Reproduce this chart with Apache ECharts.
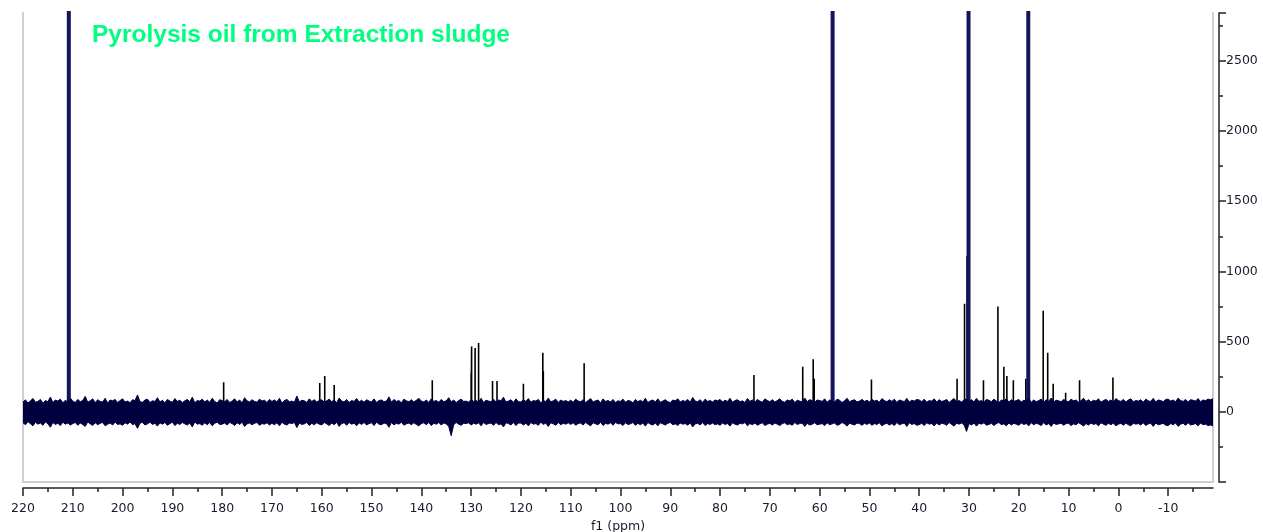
<!DOCTYPE html>
<html>
<head>
<meta charset="utf-8">
<script src="https://cdn.jsdelivr.net/npm/echarts@6/dist/echarts.min.js"></script>
<style>
html,body{margin:0;padding:0;background:#fff;}
#chart{width:1263px;height:532px;}
</style>
</head>
<body>
<div id="chart"></div>
<script>
// ---- data ----
const titleText = 'Pyrolysis oil from Extraction sludge';
const xAxisName = 'f1 (ppm)';
const xMajorTicks = [220,210,200,190,180,170,160,150,140,130,120,110,100,90,80,70,60,50,40,30,20,10,0,-10];
const xMinorTicks = [215,205,195,185,175,165,155,145,135,125,115,105,95,85,75,65,55,45,35,25,15,5,-5,-15];
const xMin = -19, xMax = 220;
const yMin = -500, yMax = 2840, yInterval = 500;

// baseline noise envelope, sampled from 220 ppm downwards every 0.5 ppm
const noiseStartPpm = 220;
const noiseStepPpm = 0.5;
const noiseUpper = [
70,85,62,78,95,68,74,88,60,80,72,105,66,84,76,90,64,82,70,98,
75,66,88,72,80,110,68,78,92,64,86,74,70,96,62,84,78,88,66,80,
92,70,76,64,86,80,120,72,68,84,90,66,78,74,100,70,82,64,88,76,
68,94,74,82,66,78,88,72,104,64,80,76,90,70,84,68,96,74,62,86,
80,72,88,66,76,92,70,84,64,100,78,70,86,74,68,90,76,82,66,88,
74,84,70,96,62,80,88,72,76,68,112,70,82,78,66,92,74,86,70,80,
86,68,78,90,72,84,64,98,76,70,88,66,80,74,94,70,82,68,86,76,
70,92,66,80,84,72,76,106,68,88,74,80,64,90,78,72,86,70,82,96,
76,70,84,66,92,74,80,68,88,72,78,100,70,84,66,80,90,74,76,68,
88,74,80,70,96,66,82,76,72,90,68,84,78,104,70,76,86,66,92,72,
70,86,74,94,68,80,76,88,64,82,72,98,70,78,90,66,84,74,80,70,
82,68,90,76,72,86,66,80,94,70,78,84,64,92,74,80,70,88,66,78,
74,90,68,80,76,64,88,72,82,70,96,66,78,84,70,92,68,76,86,72,
66,84,78,92,70,80,74,88,68,102,76,72,86,66,90,74,80,70,84,78,
88,70,82,74,96,68,80,86,72,78,66,94,74,84,70,88,76,68,92,80,
72,86,70,80,92,74,68,84,78,90,66,82,76,70,98,72,86,80,68,84,
80,74,92,68,84,76,70,90,82,66,78,96,72,80,86,70,76,88,74,82,
70,88,76,82,68,94,80,72,86,74,90,66,84,78,72,96,70,82,76,88,
84,72,90,68,80,76,92,70,86,74,78,88,66,82,94,72,80,70,84,90,
76,86,70,96,74,80,68,88,82,72,90,76,66,84,78,92,70,86,74,80,
88,70,82,76,94,68,84,72,80,90,66,86,74,98,70,82,78,72,88,76,
72,90,78,84,68,80,96,74,86,70,82,76,92,68,80,88,74,84,70,94,
80,74,88,70,84,92,72,80,76,86,68,90,78,74,96,70,84,80,72,88,
90,76,84,72,98,80,74,88,70,86,82,76,94,72,84,80,90,86,92
];
const noiseLower = [
-78,-92,-70,-85,-100,-74,-88,-80,-96,-72,-86,-110,-76,-90,-82,-98,-74,-88,-80,-94,
-84,-76,-96,-80,-90,-104,-72,-86,-98,-78,-92,-82,-76,-100,-88,-80,-94,-74,-90,-86,
-96,-78,-88,-72,-92,-84,-118,-80,-76,-94,-86,-74,-90,-82,-102,-78,-88,-76,-96,-84,
-74,-98,-82,-90,-76,-86,-94,-80,-108,-72,-88,-84,-96,-78,-92,-76,-100,-82,-74,-90,
-88,-80,-94,-76,-84,-98,-78,-90,-74,-104,-86,-80,-92,-82,-76,-96,-84,-88,-78,-94,
-82,-92,-78,-100,-74,-88,-94,-80,-84,-76,-112,-80,-90,-86,-76,-98,-82,-92,-78,-88,
-94,-76,-86,-98,-80,-92,-74,-104,-84,-78,-96,-76,-88,-82,-100,-78,-90,-76,-94,-84,
-78,-98,-74,-88,-92,-80,-84,-110,-76,-94,-82,-88,-74,-96,-86,-80,-92,-78,-90,-100,
-84,-78,-92,-76,-98,-82,-88,-76,-94,-80,-86,-104,-170,-92,-76,-88,-96,-82,-84,-78,
-94,-82,-88,-78,-100,-76,-90,-84,-80,-96,-76,-92,-86,-108,-78,-84,-94,-76,-98,-80,
-80,-94,-82,-100,-76,-88,-84,-96,-74,-90,-80,-104,-78,-86,-96,-76,-92,-82,-88,-78,
-90,-78,-96,-84,-80,-94,-76,-88,-100,-78,-86,-92,-74,-98,-82,-88,-78,-96,-76,-86,
-84,-98,-78,-90,-86,-76,-96,-82,-92,-80,-102,-76,-88,-94,-80,-100,-78,-86,-94,-82,
-76,-92,-86,-98,-80,-88,-84,-96,-78,-108,-86,-82,-94,-76,-98,-84,-90,-80,-92,-86,
-96,-80,-90,-84,-102,-78,-88,-94,-82,-86,-76,-100,-84,-92,-80,-96,-86,-78,-98,-88,
-82,-94,-80,-88,-98,-84,-78,-92,-86,-96,-76,-90,-84,-80,-104,-82,-94,-88,-78,-92,
-88,-84,-98,-78,-92,-86,-80,-96,-90,-76,-86,-102,-82,-88,-94,-80,-84,-96,-82,-90,
-80,-96,-84,-90,-78,-100,-88,-82,-94,-84,-98,-76,-92,-86,-80,-104,-78,-90,-84,-96,
-92,-82,-98,-78,-88,-84,-100,-80,-94,-82,-86,-96,-76,-90,-102,-82,-88,-80,-92,-140,
-84,-94,-80,-102,-82,-88,-78,-96,-90,-82,-98,-84,-76,-92,-86,-100,-80,-94,-82,-88,
-96,-80,-90,-84,-100,-78,-92,-82,-88,-98,-76,-94,-84,-104,-80,-90,-86,-82,-96,-84,
-82,-98,-86,-92,-78,-88,-102,-84,-94,-80,-90,-84,-100,-78,-88,-96,-82,-92,-80,-100,
-88,-82,-96,-80,-92,-100,-82,-88,-84,-94,-78,-98,-86,-82,-104,-80,-92,-88,-82,-96,
-98,-84,-92,-80,-104,-88,-82,-96,-78,-94,-90,-84,-100,-80,-92,-88,-98,-94,-100
];

// resolved small peaks: [ppm, intensity]
const smallPeaks = [
[179.7,210],[160.4,205],[159.4,255],[157.5,190],[137.8,225],
[130.0,275],[129.9,465],[129.2,455],[128.5,490],[125.7,220],[124.8,220],
[119.5,200],[115.6,420],[115.5,290],[107.3,345],
[73.2,262],[63.4,320],[61.3,375],[61.1,235],[49.6,230],
[32.4,235],[30.9,770],[30.4,1110],[27.1,225],[24.2,750],[23.0,320],[22.4,255],
[21.1,225],[18.6,235],[15.1,720],[14.2,420],[13.1,200],[10.6,135],[7.8,225],[1.1,245]
];
// off-scale major peaks: [ppm, intensity]
const bigPeaks = [[210.8,30000],[57.4,30000],[30.1,30000],[18.1,30000]];

// ---- build series data ----
const upperData = noiseUpper.map((v, i) => [noiseStartPpm - i * noiseStepPpm, v]);
const lowerData = noiseLower.map((v, i) => [noiseStartPpm - i * noiseStepPpm, v]);
function spikes(list) {
  const out = [];
  list.forEach(p => { out.push([p[0], 0]); out.push([p[0], p[1]]); out.push([p[0], 0]); });
  return out;
}

const labelFont = 'DejaVu Sans';
const labelColor = '#1a1a2e';
const navy = '#00003f';
const chart = echarts.init(document.getElementById('chart'), null, {renderer: 'canvas'});
const baseX = {
  type: 'value', min: xMin, max: xMax, inverse: true, position: 'bottom',
  splitLine: {show: false}
};
chart.setOption({
  animation: false,
  backgroundColor: '#ffffff',
  title: {
    text: titleText, left: 92, top: 23, padding: 0,
    textStyle: {color: '#00ff80', fontFamily: 'Liberation Sans', fontWeight: 'bold', fontSize: 24.5}
  },
  grid: {left: 23, right: 50, top: 13, bottom: 50, show: false, containLabel: false, outerBoundsMode: 'none'},
  xAxis: [
    Object.assign({}, baseX, {
      offset: 6,
      name: xAxisName, nameLocation: 'middle', nameGap: 31,
      nameTextStyle: {fontFamily: labelFont, fontSize: 12.5, color: labelColor},
      axisLine: {show: true, onZero: false, lineStyle: {color: '#222', width: 1.5}},
      axisTick: {show: true, inside: false, length: 8, lineStyle: {color: '#222', width: 1.5}, customValues: xMajorTicks},
      axisLabel: {show: true, margin: 14, fontFamily: labelFont, fontSize: 12.5, color: labelColor, customValues: xMajorTicks}
    }),
    Object.assign({}, baseX, {
      offset: 6,
      axisLine: {show: false, onZero: false},
      axisTick: {show: true, length: 4, lineStyle: {color: '#222', width: 1.5}, customValues: xMinorTicks},
      axisLabel: {show: false}
    }),
    Object.assign({}, baseX, {
      offset: 0,
      axisLine: {show: true, onZero: false, lineStyle: {color: '#cfcfcf', width: 2}},
      axisTick: {show: false},
      axisLabel: {show: false}
    })
  ],
  yAxis: [
    {
      type: 'value', min: yMin, max: yMax, interval: yInterval, position: 'right', offset: 6,
      axisLine: {show: true, onZero: false, lineStyle: {color: '#222', width: 1.5}},
      axisTick: {show: true, inside: false, length: 7, lineStyle: {color: '#222', width: 1.5}},
      minorTick: {show: true, splitNumber: 2, length: 4, lineStyle: {color: '#222', width: 1.5}},
      axisLabel: {show: true, margin: 7, fontFamily: labelFont, fontSize: 12.5, color: labelColor,
        showMaxLabel: false, showMinLabel: false, formatter: v => String(v)},
      splitLine: {show: false}
    },
    {
      type: 'value', min: yMin, max: yMax, position: 'left', offset: 0,
      axisLine: {show: true, onZero: false, lineStyle: {color: '#cfcfcf', width: 2}},
      axisTick: {show: false}, axisLabel: {show: false}, splitLine: {show: false}
    },
    {
      type: 'value', min: yMin, max: yMax, position: 'right', offset: 0,
      axisLine: {show: true, onZero: false, lineStyle: {color: '#cfcfcf', width: 2}},
      axisTick: {show: false}, axisLabel: {show: false}, splitLine: {show: false}
    }
  ],
  series: [
    {
      name: 'peaks', type: 'line', xAxisIndex: 0, yAxisIndex: 0, data: spikes(smallPeaks),
      showSymbol: false, symbol: 'none', clip: true, z: 2,
      lineStyle: {color: '#000000', width: 1.6}
    },
    {
      name: 'major', type: 'line', xAxisIndex: 0, yAxisIndex: 0, data: spikes(bigPeaks),
      showSymbol: false, symbol: 'none', clip: true, z: 2,
      lineStyle: {color: '#14145a', width: 4}
    },
    {
      name: 'noiseUpper', type: 'line', xAxisIndex: 0, yAxisIndex: 0, data: upperData,
      showSymbol: false, symbol: 'none', clip: true, z: 3,
      lineStyle: {color: navy, width: 1}, areaStyle: {color: navy, opacity: 1, origin: -40}
    },
    {
      name: 'noiseLower', type: 'line', xAxisIndex: 0, yAxisIndex: 0, data: lowerData,
      showSymbol: false, symbol: 'none', clip: true, z: 3,
      lineStyle: {color: navy, width: 1}, areaStyle: {color: navy, opacity: 1, origin: 40}
    }
  ]
});
</script>
</body>
</html>
